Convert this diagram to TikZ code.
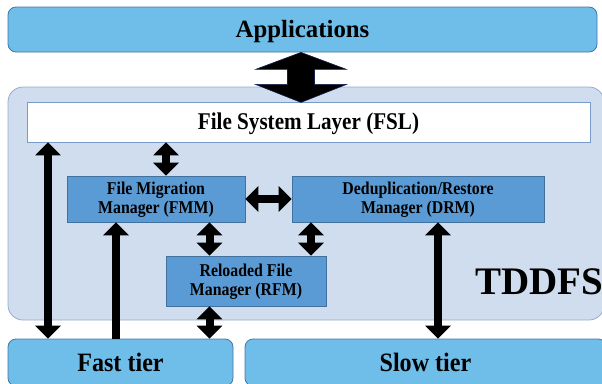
\documentclass[tikz,border=0pt]{standalone}
\usepackage{fontspec}
\setmainfont{Liberation Serif}
\newfontfamily\narrowfont[FakeStretch=0.88]{Liberation Serif}
\newfontfamily\tierfont[FakeStretch=0.91]{Liberation Serif}
\usetikzlibrary{arrows.meta}
\definecolor{tierfill}{RGB}{111,189,233}
\definecolor{tierdraw}{RGB}{70,118,165}
\definecolor{contfill}{RGB}{207,221,238}
\definecolor{contdraw}{RGB}{150,172,200}
\definecolor{fsldraw}{RGB}{120,155,200}
\definecolor{modfill}{RGB}{91,155,213}
\definecolor{moddraw}{RGB}{65,113,156}
\definecolor{navyline}{RGB}{20,30,80}
\begin{document}
\begin{tikzpicture}[x=1pt,y=-1pt,
  tierbox/.style={draw=tierdraw, fill=tierfill, line width=0.8pt, rounded corners=8pt,
    inner sep=0pt, text height=17.5pt, text depth=0pt,
    font=\tierfont\bfseries\fontsize{26.5}{30}\selectfont},
  appbox/.style={tierbox, text height=16.4pt, font=\bfseries\fontsize{24.8}{28}\selectfont},
  contbox/.style={draw=contdraw, fill=contfill, line width=0.8pt, rounded corners=15pt, inner sep=0pt},
  fslbox/.style={draw=fsldraw, fill=white, line width=0.8pt, inner sep=0pt,
    text height=15.5pt, text depth=0pt, font=\narrowfont\bfseries\fontsize{24}{27}\selectfont},
  modbox/.style={draw=moddraw, fill=modfill, line width=0.6pt, inner sep=0pt, align=center,
    font=\narrowfont\bfseries\fontsize{18}{19.5}\selectfont},
  dblarrow/.style={line width=8pt, {Triangle[width=25pt,length=13pt]}-{Triangle[width=25pt,length=13pt]}},
  uparrow/.style={line width=8pt, -{Triangle[width=25pt,length=13pt]}},
  blockarrow/.style={fill=black, draw=navyline, line width=0.6pt, line join=miter}
]
\clip (0,0) rectangle (602,383);
% container
\node[contbox, minimum width=596pt, minimum height=233pt] (cont) at (306,203.5) {};
\node[anchor=base west, font=\bfseries\fontsize{39}{44}\selectfont, inner sep=0pt] (tddfs) at (475,294) {TDDFS};
% top and tiers
\node[appbox, minimum width=589pt, minimum height=45pt] (app) at (302.5,29.5) {Applications};
\node[tierbox, minimum width=225pt, minimum height=47pt] (fast) at (120.5,362.5) {Fast tier};
\node[tierbox, minimum width=361pt, minimum height=47pt] (slow) at (425.5,362.5) {Slow tier};
% inner boxes
\node[fslbox, minimum width=563pt, minimum height=40pt] (fsl) at (308.5,122) {File System Layer (FSL)};
\node[modbox, minimum width=178pt, minimum height=46pt] (fmm) at (156,199) {\rule{0pt}{14pt}File Migration\\Manager (FMM)};
\node[modbox, minimum width=252pt, minimum height=46pt] (drm) at (418,199) {\rule{0pt}{14pt}Deduplication/Restore\\Manager (DRM)};
\node[modbox, minimum width=160pt, minimum height=50pt] (rfm) at (246,281) {\rule{0pt}{14pt}Reloaded File\\Manager (RFM)};
% column coordinates
\coordinate (cA) at (48,0);
\coordinate (cB) at (116,0);
\coordinate (cC) at (166,0);
\coordinate (cD) at (209.5,0);
\coordinate (cE) at (311,0);
\coordinate (cF) at (438,0);
\coordinate (cTop) at (301,0);
% block arrow Applications <-> FSL
\draw[blockarrow] (app.south -| cTop) -- ++(45.5,17) -- ++(-32,0) -- ++(0,15) -- ++(32,0)
  -- ++(-45.5,18) -- ++(-45.5,-18) -- ++(32,0) -- ++(0,-15) -- ++(-32,0) -- cycle;
% arrows
\draw[dblarrow] (fsl.south -| cA) -- (fast.north -| cA);
\draw[uparrow] (fast.north -| cB) -- (fmm.south -| cB);
\draw[dblarrow] (fsl.south -| cC) -- (fmm.north -| cC);
\draw[dblarrow] (fmm.east) -- (drm.west);
\draw[dblarrow] (fmm.south -| cD) -- (rfm.north -| cD);
\draw[dblarrow] (drm.south -| cE) -- (rfm.north -| cE);
\draw[dblarrow] (rfm.south -| cD) -- (fast.north -| cD);
\draw[dblarrow] (drm.south -| cF) -- (slow.north -| cF);
\end{tikzpicture}
\end{document}
